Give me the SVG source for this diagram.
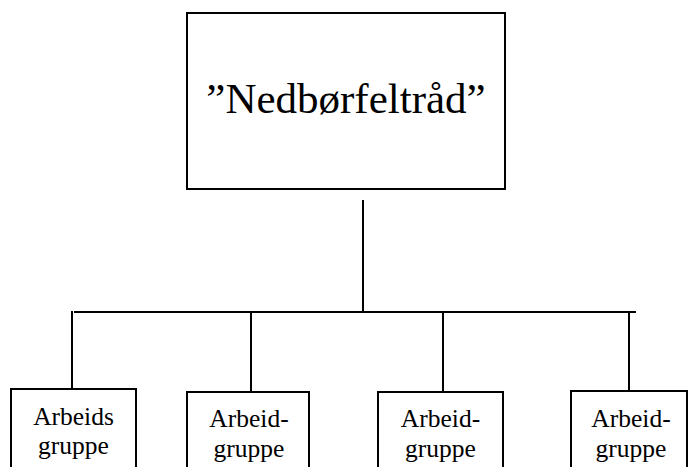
<svg xmlns="http://www.w3.org/2000/svg" width="688" height="467" viewBox="0 0 688 467">
<style>
.box{fill:#fff;stroke:#000;stroke-width:2}
.ln{stroke:#000;stroke-width:2;fill:none}
.t{font-family:"Liberation Serif","Times New Roman",serif;fill:#000;text-anchor:middle}
.big{font-size:43px}
.sm{font-size:25.5px}
</style>
<rect width="688" height="467" fill="#fff"/>
<g id="connectors">
<line class="ln" x1="363" y1="200" x2="363" y2="312"/>
<line class="ln" x1="74" y1="312" x2="636" y2="312"/>
<line class="ln" x1="72" y1="311" x2="72" y2="389"/>
<line class="ln" x1="251" y1="312" x2="251" y2="392"/>
<line class="ln" x1="443" y1="312" x2="443" y2="392"/>
<line class="ln" x1="629" y1="312" x2="629" y2="391"/>
</g>
<g id="root">
<rect class="box" x="187" y="13" width="318" height="176"/>
<text class="t big" x="346" y="113">”Nedbørfeltråd”</text>
</g>
<g id="group1">
<rect class="box" x="11" y="389" width="125" height="90"/>
<text class="t sm" x="73.5" y="425">Arbeids</text>
<text class="t sm" x="73.5" y="454">gruppe</text>
</g>
<g id="group2">
<rect class="box" x="187" y="392" width="122" height="90"/>
<text class="t sm" x="249" y="427">Arbeid-</text>
<text class="t sm" x="249" y="457">gruppe</text>
</g>
<g id="group3">
<rect class="box" x="378" y="392" width="125" height="90"/>
<text class="t sm" x="440.5" y="427">Arbeid-</text>
<text class="t sm" x="440.5" y="457">gruppe</text>
</g>
<g id="group4">
<rect class="box" x="571" y="391" width="116" height="90"/>
<text class="t sm" x="631" y="427">Arbeid-</text>
<text class="t sm" x="631" y="457">gruppe</text>
</g>
</svg>
